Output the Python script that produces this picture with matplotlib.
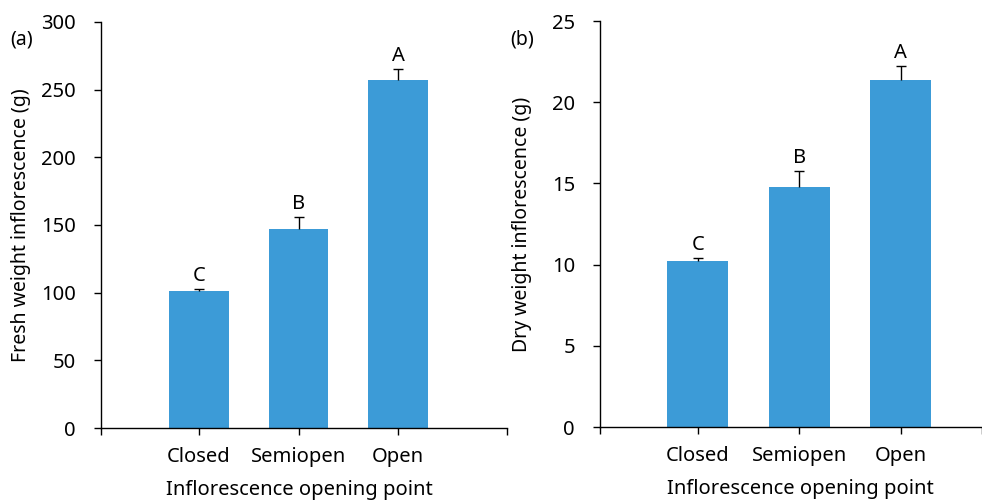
import matplotlib
matplotlib.use("Agg")
import matplotlib.pyplot as plt
import numpy as np

plt.rcParams['font.family'] = ['Noto Sans', 'DejaVu Sans']

categories = ["Closed", "Semiopen", "Open"]

fresh_mean = [101.5, 147.0, 257.0]
fresh_err = [1.5, 9.0, 8.5]
fresh_letters = ["C", "B", "A"]

dry_mean = [10.25, 14.8, 21.4]
dry_err = [0.15, 0.95, 0.85]
dry_letters = ["C", "B", "A"]

bar_color = "#3C9BD7"
fs = 14.5
fs_lab = 14

fig = plt.figure(figsize=(9.82, 5.01), dpi=100)


def panel(rect, means, errs, letters, ylim, yticks, ylabel, xlim, tag, tag_xy):
    ax = fig.add_axes(rect)
    x = np.arange(len(categories))
    ax.bar(x, means, width=0.6, color=bar_color, zorder=2)
    _, caps, _ = ax.errorbar(x, means, yerr=[np.zeros(len(errs)), errs], fmt="none",
                             ecolor="black", elinewidth=1.0, capsize=3.5,
                             capthick=1.0, zorder=3)
    # one-sided bars: hide the cap drawn at the bar top
    caps[0].set_visible(False)
    for xi, m, e, lab in zip(x, means, errs, letters):
        ax.annotate(lab, (xi, m + e), xytext=(0, 2), textcoords="offset points",
                    ha="center", va="bottom", fontsize=fs)
    ax.set_xlim(*xlim)
    ax.set_ylim(*ylim)
    ax.set_yticks(yticks)
    ax.set_xticks(x)
    ax.set_xticklabels(categories, fontsize=fs)
    ax.set_xticks(list(xlim), minor=True)
    ax.tick_params(axis="x", which="minor", length=5, width=1.0, direction="out")
    ax.tick_params(axis="both", which="major", length=5, width=1.0, direction="out",
                   labelsize=fs, pad=9)
    ax.tick_params(axis="y", which="major", pad=13)
    for s in ("top", "right"):
        ax.spines[s].set_visible(False)
    for s in ("left", "bottom"):
        ax.spines[s].set_linewidth(1.0)
    ax.set_ylabel(ylabel, fontsize=fs_lab)
    ax.set_xlabel("Inflorescence opening point", fontsize=fs)
    fig.text(tag_xy[0], tag_xy[1], tag, fontsize=fs_lab, ha="center", va="center")
    return ax


ax1 = panel([0.1029, 0.1457, 0.4134, 0.8104], fresh_mean, fresh_err, fresh_letters,
            (0, 300), np.arange(0, 301, 50), "Fresh weight inflorescence (g)",
            (-0.98, 3.09), "(a)", (22 / 982, 1 - 40 / 501))
ax1.yaxis.set_label_coords(-0.172, 0.5)
ax1.xaxis.set_label_coords((299 - 101) / (507 - 101), -0.128)

ax2 = panel([0.611, 0.1477, 0.389, 0.8103], dry_mean, dry_err, dry_letters,
            (0, 25), np.arange(0, 26, 5), "Dry weight inflorescence (g)",
            (-0.965, 2.80), "(b)", (522 / 982, 1 - 40 / 501))
ax2.yaxis.set_label_coords(-0.178, 0.5)
ax2.xaxis.set_label_coords((800 - 600) / (982 - 600), -0.128)

fig.savefig("out.png", dpi=100)
